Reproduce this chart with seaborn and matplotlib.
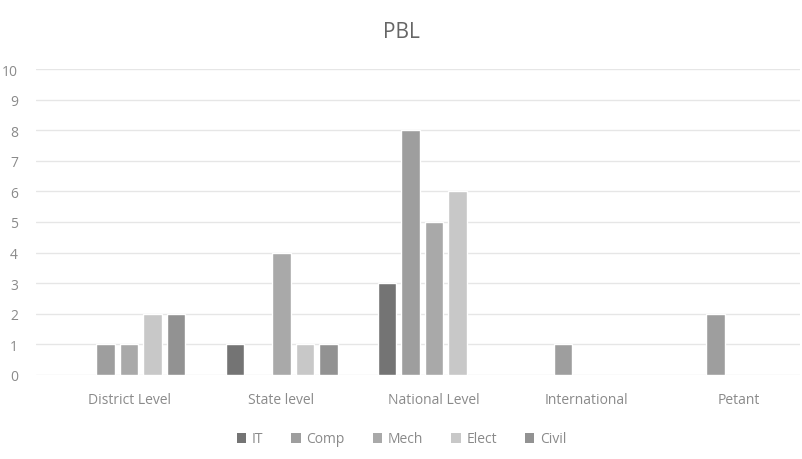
import matplotlib
matplotlib.use("Agg")
import matplotlib.pyplot as plt
import seaborn as sns
import pandas as pd

categories = ["District Level", "State level", "National Level", "International", "Petant"]
series = ["IT", "Comp", "Mech", "Elect", "Civil"]
it_vals = [0, 1, 3, 0, 0]
comp_vals = [1, 0, 8, 1, 2]
mech_vals = [1, 4, 5, 0, 0]
elect_vals = [2, 1, 6, 0, 0]
civil_vals = [2, 1, 0, 0, 0]
colors = ["#747474", "#9e9e9e", "#a9a9a9", "#c8c8c8", "#929292"]

values = [it_vals, comp_vals, mech_vals, elect_vals, civil_vals]
rows = []
for s, vals in zip(series, values):
    for c, v in zip(categories, vals):
        rows.append({"cat": c, "series": s, "value": v})
df = pd.DataFrame(rows)

sns.set_theme(style="white")
plt.rcParams['font.family'] = ['Open Sans', 'DejaVu Sans']

fig = plt.figure(figsize=(8.03, 4.6), dpi=100)
ax = fig.add_axes([36/803, 84/460, 764/803, 306/460])
sns.barplot(data=df, x="cat", y="value", hue="series", order=categories,
            hue_order=series, palette=colors, width=0.77, gap=0.23,
            saturation=1, ax=ax, legend=False)

ax.set_xlim(-0.61, 4.40)
ax.set_ylim(0, 10)
ax.set_yticks(range(0, 11))
ax.yaxis.grid(True, color="#e6e6e6", linewidth=1)
ax.set_axisbelow(True)
for sp in ax.spines.values():
    sp.set_visible(False)
ax.set_xlabel("")
ax.set_ylabel("")
ax.tick_params(axis="y", length=0, pad=13, labelsize=10, labelcolor="#8a8a8a")
ax.tick_params(axis="x", length=0, pad=12, labelsize=10, labelcolor="#8a8a8a")

fig.text(0.5, 1 - 33/460, "PBL", ha="center", va="center", fontsize=15, color="#666666")

from matplotlib.patches import Patch
handles = [Patch(facecolor=c, edgecolor="none") for c in colors]
fig.legend(handles, series, loc="center", bbox_to_anchor=(0.5, 1 - 440/460), ncol=5,
           frameon=False, fontsize=10, labelcolor="#8a8a8a", handlelength=0.7,
           handleheight=0.7, handletextpad=0.4, columnspacing=2.0)

fig.savefig("out.png", dpi=100)
